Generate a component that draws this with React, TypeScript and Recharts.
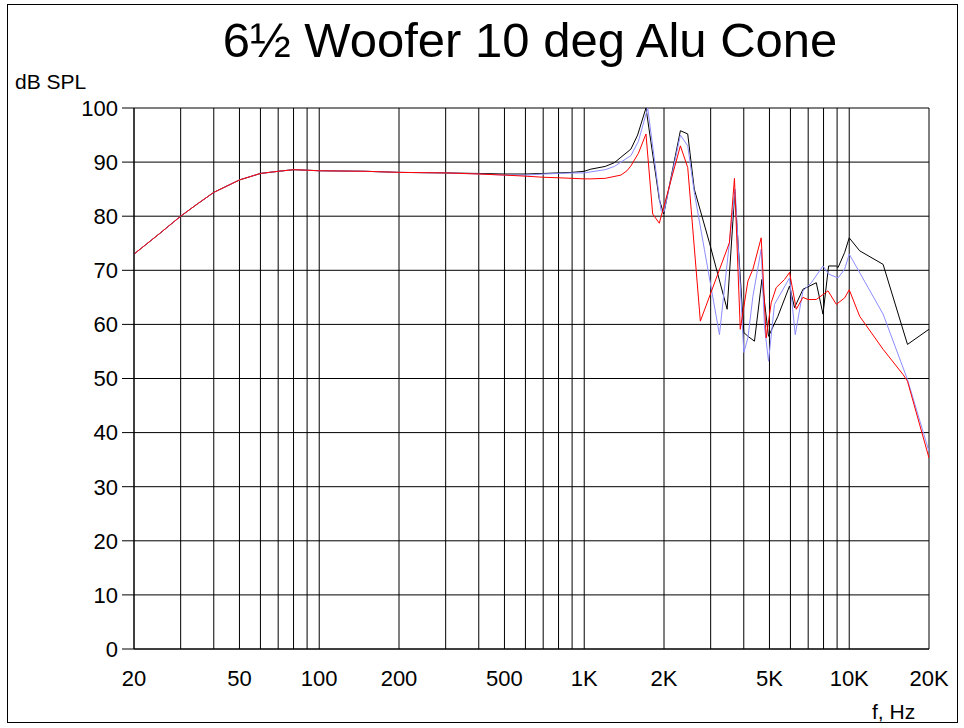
import React from "react";
import { LineChart, Line, XAxis, YAxis, CartesianGrid } from "recharts";

// shared low-frequency part (all three curves coincide here)
const lfFreq = [20, 25, 30, 35, 40, 50, 60, 70, 80, 90, 100, 150, 200, 300];
const lfLevel = [73.0, 76.8, 80.0, 82.4, 84.4, 86.7, 87.9, 88.3, 88.6, 88.5, 88.4, 88.3, 88.1, 88.0];

const blackFreq = [400, 500, 600, 700, 800, 900, 1000, 1060, 1200, 1300, 1376, 1500, 1590, 1710, 1920, 1995, 2306, 2458, 2602, 2968, 3462, 3700, 4002, 4146, 4390, 4682, 4960, 5381, 5954, 6218, 6690, 7511, 7962, 8360, 8940, 9074, 9610, 10000, 10950, 13420, 16590, 20000];
const blackLevel = [87.9, 87.8, 87.8, 87.9, 88.0, 88.1, 88.3, 88.7, 89.2, 89.9, 90.9, 92.4, 95.0, 100.0, 83.1, 80.4, 95.8, 95.2, 85.0, 75.1, 62.8, 84.5, 58.5, 57.8, 56.9, 68.3, 57.8, 61.5, 67.1, 63.1, 66.5, 67.7, 61.9, 70.8, 70.8, 70.5, 73.3, 76.0, 73.6, 71.1, 56.3, 59.1];

const blueFreq = [400, 500, 600, 700, 800, 900, 1000, 1060, 1200, 1300, 1376, 1500, 1600, 1736, 1950, 2000, 2306, 2458, 2602, 2840, 3238, 3711, 4002, 4146, 4330, 4654, 4788, 4960, 5224, 5954, 6256, 6690, 7192, 7962, 8360, 9074, 9610, 10000, 13420, 16590, 20000];
const blueLevel = [87.8, 87.6, 87.6, 87.8, 87.9, 88.0, 88.0, 88.2, 88.6, 89.2, 90.0, 91.2, 93.8, 100.0, 81.0, 80.8, 95.0, 93.0, 84.4, 73.9, 58.1, 85.0, 54.8, 57.5, 65.2, 73.9, 59.7, 53.2, 63.7, 68.6, 58.1, 66.2, 67.7, 70.8, 69.3, 68.6, 70.2, 73.0, 61.9, 49.8, 36.5];

const redFreq = [400, 500, 600, 700, 800, 900, 1000, 1060, 1200, 1376, 1450, 1500, 1600, 1710, 1813, 1920, 2306, 2458, 2743, 3531, 3689, 3880, 4146, 4330, 4654, 4860, 5077, 5302, 5700, 5954, 6311, 6690, 6988, 7511, 8316, 8940, 9610, 10000, 10950, 13420, 15980, 16590, 20000];
const redLevel = [87.8, 87.6, 87.4, 87.2, 87.1, 87.0, 86.9, 86.9, 87.0, 87.6, 88.4, 89.3, 91.6, 95.2, 80.4, 78.7, 93.0, 89.0, 60.6, 75.1, 87.0, 59.1, 68.0, 70.2, 76.0, 57.5, 64.0, 66.8, 68.3, 69.6, 62.8, 65.0, 64.6, 64.6, 66.2, 63.7, 64.9, 66.4, 61.5, 55.4, 50.7, 49.5, 35.3];

const xTicks = [20, 30, 40, 50, 60, 70, 80, 90, 100, 200, 300, 400, 500, 600, 700, 800, 900, 1000, 2000, 3000, 4000, 5000, 6000, 7000, 8000, 9000, 10000, 20000];
const xLabelValues = [20, 50, 100, 200, 500, 1000, 2000, 5000, 10000, 20000];
const xLabelTexts = ["20", "50", "100", "200", "500", "1K", "2K", "5K", "10K", "20K"];
const yTicks = [0, 10, 20, 30, 40, 50, 60, 70, 80, 90, 100];

const toPoints = (fs: number[], vs: number[]) => fs.map((f, i) => ({ f, v: vs[i] }));
const lf = toPoints(lfFreq, lfLevel);
const blackData = [...lf, ...toPoints(blackFreq, blackLevel)];
const blueData = [...lf, ...toPoints(blueFreq, blueLevel)];
const redData = [...lf, ...toPoints(redFreq, redLevel)];

const fmtX = (v: number) => {
  const i = xLabelValues.indexOf(v);
  return i >= 0 ? xLabelTexts[i] : "";
};

const font = "'Liberation Sans', Arial, sans-serif";

export default function App() {
  return (
    <div style={{ position: "absolute", left: 0, top: 0, width: 964, height: 728, background: "#fff", fontFamily: font }}>
      <div style={{ position: "absolute", left: 0, top: 12, width: 1060, textAlign: "center", fontSize: 49, color: "#000", lineHeight: "56px" }}>
        6½ Woofer 10 deg Alu Cone
      </div>
      <div style={{ position: "absolute", left: 15, top: 70, fontSize: 21, color: "#000" }}>dB SPL</div>
      <div style={{ position: "absolute", left: 872, top: 700, fontSize: 21, color: "#000" }}>f, Hz</div>
      <div style={{ position: "absolute", left: 0, top: 0 }}>
        <LineChart width={964} height={728} margin={{ top: 108, right: 35, bottom: 49, left: 74 }}>
          <CartesianGrid stroke="#000" strokeWidth={1} />
          <XAxis
            type="number"
            dataKey="f"
            scale="log"
            domain={[20, 20000]}
            allowDataOverflow
            ticks={xTicks}
            tickFormatter={fmtX}
            interval={0}
            tickLine={false}
            tickSize={0}
            tickMargin={21}
            height={30}
            axisLine={{ stroke: "#000" }}
            tick={{ fill: "#000", fontSize: 22, fontFamily: font }}
          />
          <YAxis
            type="number"
            domain={[0, 100]}
            allowDataOverflow
            ticks={yTicks}
            interval={0}
            width={60}
            tickSize={12}
            tickMargin={4}
            tickLine={{ stroke: "#000" }}
            axisLine={{ stroke: "#000" }}
            tick={{ fill: "#000", fontSize: 22, fontFamily: font }}
          />
          <Line data={blackData} dataKey="v" stroke="#000" strokeWidth={1} dot={false} isAnimationActive={false} type="linear" />
          <Line data={blueData} dataKey="v" stroke="#8c8cff" strokeWidth={1} dot={false} isAnimationActive={false} type="linear" />
          <Line data={redData} dataKey="v" stroke="#ff0000" strokeWidth={1} dot={false} isAnimationActive={false} type="linear" />
        </LineChart>
      </div>
      <div style={{ position: "absolute", left: 7, top: 4, width: 949, height: 717, border: "1px solid #000", pointerEvents: "none", zIndex: 2 }} />
    </div>
  );
}
